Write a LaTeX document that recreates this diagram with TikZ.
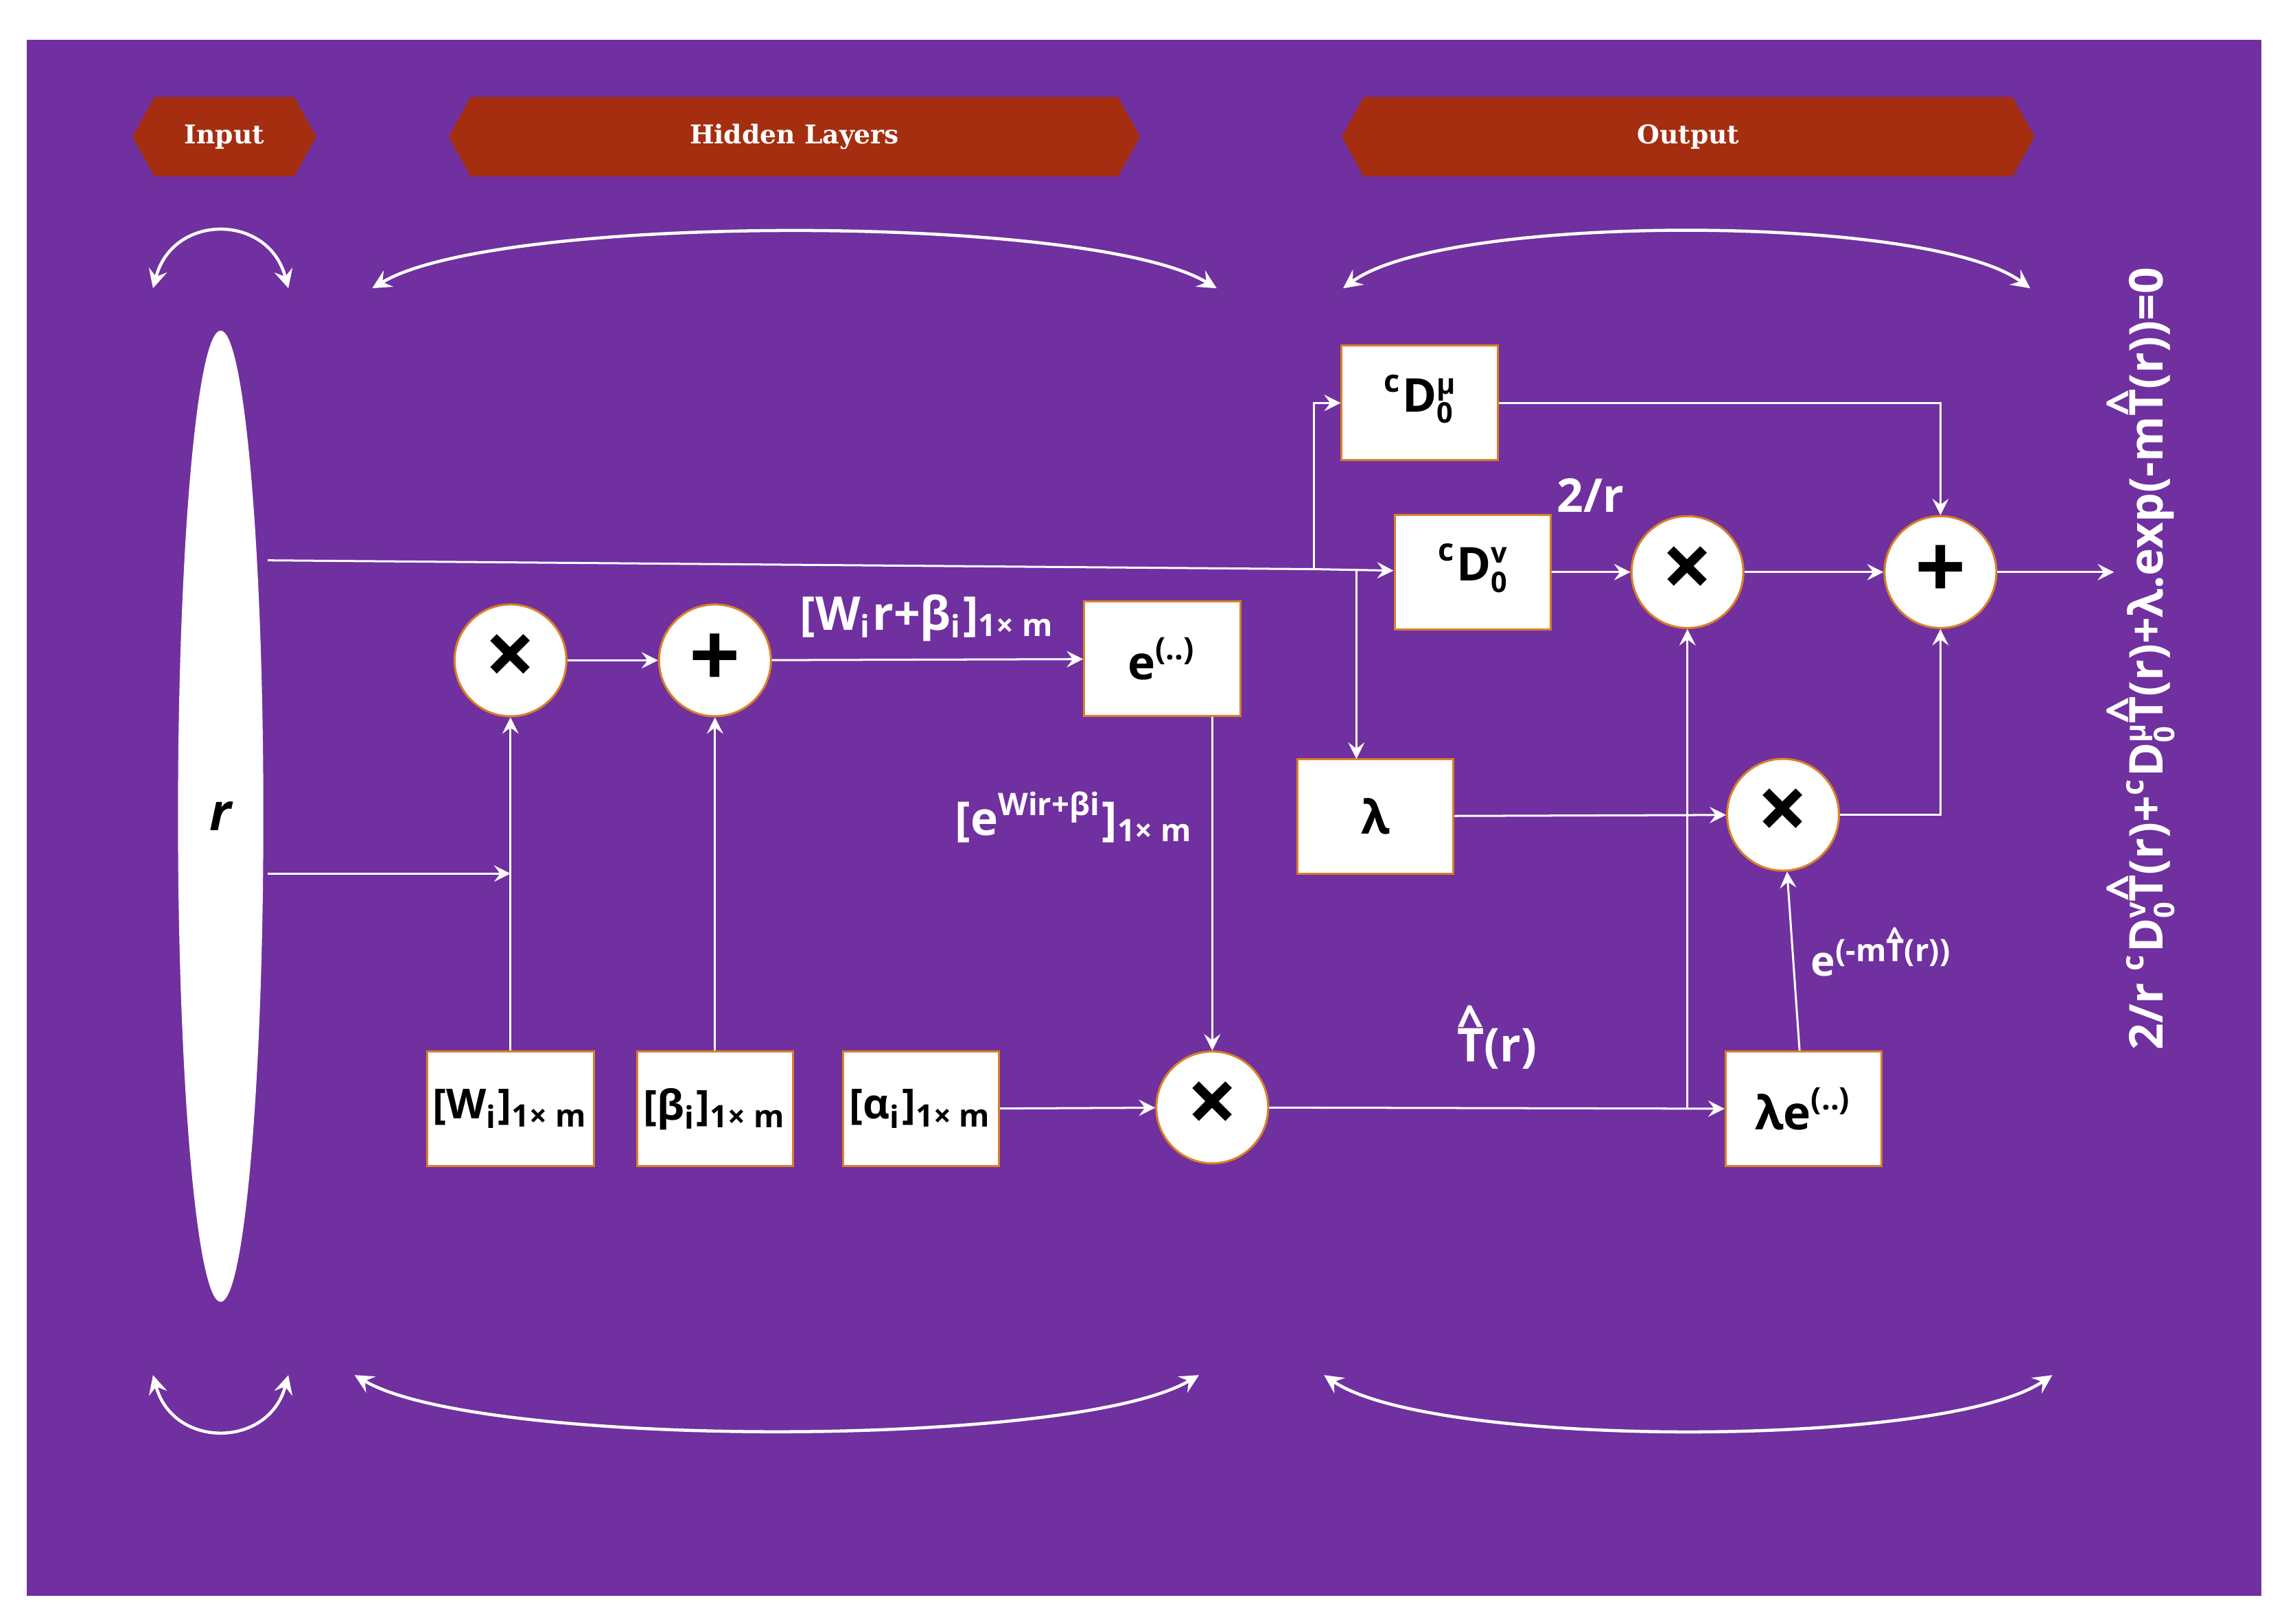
\documentclass[tikz,border=0pt]{standalone}
\usepackage{fontspec}
\setmainfont{Open Sans}
\newfontfamily\bannerfont{DejaVu Serif}
\usetikzlibrary{arrows,shapes.geometric}
\definecolor{bgpurple}{HTML}{7030A0}
\definecolor{bannerred}{HTML}{A52E10}
\newcommand{\caputo}[1]{\textsuperscript{c}D\raisebox{0.05em}{\fontsize{5.5}{5.5}\selectfont\begin{tabular}{@{}l@{}}#1\\0\end{tabular}}}
\newcommand{\that}{\shortstack{\textasciicircum\\[-5pt]T}}

\begin{document}
\begin{tikzpicture}[x = 0.01cm, y = -0.01cm, font = \bfseries,
	block/.style = {rectangle, draw = orange!40!brown, fill = white, minimum width = 1.06cm, minimum height = 0.78cm, inner sep = 1pt, font = \bfseries\small},
	op/.style = {circle, draw = orange!40!brown, fill = white, minimum size = 0.76cm, inner sep = 0pt, font = \bfseries\LARGE},
	link/.style = {draw = white, -stealth, line width = 0.4pt},
	lbl/.style = {text = white, font = \bfseries\small},
	brace/.style = {draw = white, line width = 0.6pt, stealth-stealth}]

	\useasboundingbox (0, 0) rectangle (1560, 1104);
	\fill[bgpurple] (18, 27) rectangle (1537, 1085);

	% banners
	\foreach \name/\xa/\xb/\txt in {inp/90/215/Input, hid/305/775/Hidden Layers, out/912/1383/Output} {
		\fill[bannerred] (\xa, 93) -- (\xa+15, 66) -- (\xb-15, 66) -- (\xb, 93) -- (\xb-15, 120) -- (\xa+15, 120) -- cycle;
		\node[text = white, font = \bannerfont\bfseries\tiny] (\name) at ({(\xa+\xb)/2}, 93) {\txt};
	}

	% curved braces
	\foreach \xa/\xb in {104/196, 253/827, 913/1380}
		\draw[brace] (\xa, 196) .. controls (\xa+0.15*\xb-0.15*\xa, 145) and (\xb-0.15*\xb+0.15*\xa, 145) .. (\xb, 196);
	\foreach \xa/\xb in {104/196, 241/815, 900/1395}
		\draw[brace] (\xa, 935) .. controls (\xa+0.15*\xb-0.15*\xa, 985) and (\xb-0.15*\xb+0.15*\xa, 985) .. (\xb, 935);

	% input
	\node[ellipse, fill = white, minimum width = 0.58cm, minimum height = 6.6cm] (R) at (150, 555) {\itshape r};

	% hidden layer
	\node[op] (M1) at (347, 449) {×};
	\node[op] (A1) at (486, 449) {+};
	\node[block, font = \bfseries\footnotesize] (W) at (347, 754) {[W\textsubscript{i}]\textsubscript{1× m}};
	\node[block, font = \bfseries\footnotesize] (B) at (486, 754) {[β\textsubscript{i}]\textsubscript{1× m}};
	\node[block, font = \bfseries\footnotesize] (Al) at (626, 754) {[α\textsubscript{i}]\textsubscript{1× m}};
	\node[block] (E) at (790, 448) {e\textsuperscript{(..)}};
	\node[op] (M2) at (824, 753) {×};

	% output
	\node[block] (Dmu) at (965, 274) {\caputo{μ}};
	\node[block] (Dnu) at (1001, 389) {\caputo{v}};
	\node[block] (L) at (935, 555) {λ};
	\node[block] (LE) at (1226, 754) {λe\textsuperscript{(..)}};
	\node[op] (MA) at (1147, 389) {×};
	\node[op] (AA) at (1319, 389) {+};
	\node[op] (MB) at (1212, 554) {×};
	\coordinate (res) at (1437, 389);

	% connections
	\coordinate (j1) at (893, 387);
	\coordinate (j2) at (922, 387);
	\coordinate (rlow) at (347, 594);
	\draw[white] (182, 381) -- (j1);
	\draw[link] (j1) -- (Dnu);
	\draw[link] (j1) |- (Dmu);
	\draw[link] (j2) -- (922, 516);
	\draw[link] (182, 594) -- (rlow);
	\draw[link] (W) -- (M1);
	\draw[link] (M1) -- (A1);
	\draw[link] (B) -- (A1);
	\draw[link] (A1) -- node[lbl, above] {[W\textsubscript{i}r+β\textsubscript{i}]\textsubscript{1× m}} (E);
	\draw[link] (E.south -| M2) -- node[lbl, left, pos = 0.3] {[e\textsuperscript{Wir+βi}]\textsubscript{1× m}} (M2);
	\draw[link] (Al) -- (M2);
	\draw[link] (M2) -- node[lbl, above, pos = 0.5, yshift = 4pt] {\that(r)} (LE);
	\draw[link] (1147, 753) -- (MA);
	\draw[link] (Dnu) -- (MA);
	\node[lbl] (two) at (1081, 337) {2/r};
	\draw[link] (MA) -- (AA);
	\draw[link] (Dmu) -| (AA);
	\draw[link] (L) -- (MB);
	\draw[link] (LE) -- node[lbl, right, pos = 0.55, font = \bfseries\footnotesize] {e\textsuperscript{(-m\that(r))}} (MB);
	\draw[link] (MB) -| (AA);
	\draw[link] (AA) -- (res);

	\node[lbl, rotate = 90, anchor = center] (eq) at (1458, 448) {2/r \caputo{v}\that(r)+\caputo{μ}\that(r)+λ.exp(-m\that(r))=0};
\end{tikzpicture}
\end{document}
